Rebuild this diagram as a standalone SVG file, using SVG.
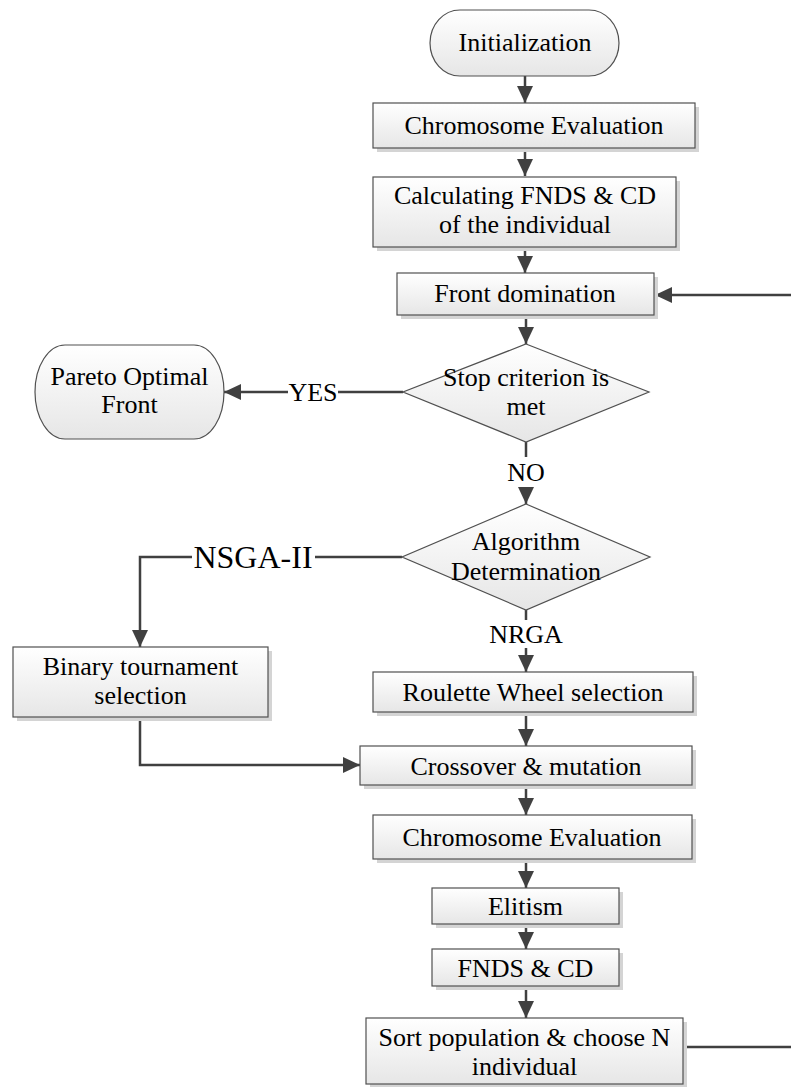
<svg xmlns="http://www.w3.org/2000/svg" width="791" height="1087" viewBox="0 0 791 1087">
<defs>
<linearGradient id="g" x1="0" y1="0" x2="0" y2="1">
<stop offset="0" stop-color="#ffffff"/>
<stop offset="1" stop-color="#e6e6e6"/>
</linearGradient>
<marker id="arr" markerUnits="userSpaceOnUse" markerWidth="20" markerHeight="20" viewBox="0 0 20 20" refX="18" refY="10" orient="auto">
<path d="M1,2 L18,10 L1,18 Z" fill="#404040"/>
</marker>
<style>
.box{fill:url(#g);stroke:#505050;stroke-width:1.2}
.sh{fill:#d4d4d4}
.t{font-family:"Liberation Serif","Times New Roman",serif;font-size:26px;fill:#000;text-anchor:middle}
.c{fill:none;stroke:#404040;stroke-width:2.5}
.lb{fill:#ffffff}
</style>
</defs>
<rect width="791" height="1087" fill="#ffffff"/>

<g id="connectors">
<path class="c" d="M525,76 V103" marker-end="url(#arr)"/>
<path class="c" d="M525,148 V176" marker-end="url(#arr)"/>
<path class="c" d="M525,247 V273" marker-end="url(#arr)"/>
<path class="c" d="M526,315 V344" marker-end="url(#arr)"/>
<path class="c" d="M403,392 H224" marker-end="url(#arr)"/>
<path class="c" d="M526,442 V504" marker-end="url(#arr)"/>
<path class="c" d="M402,557 H140 V647" marker-end="url(#arr)"/>
<path class="c" d="M526,610 V672" marker-end="url(#arr)"/>
<path class="c" d="M526,712 V746" marker-end="url(#arr)"/>
<path class="c" d="M140,717 V765 H360" marker-end="url(#arr)"/>
<path class="c" d="M526,785 V815" marker-end="url(#arr)"/>
<path class="c" d="M526,859 V888" marker-end="url(#arr)"/>
<path class="c" d="M526,924 V949" marker-end="url(#arr)"/>
<path class="c" d="M526,986 V1018" marker-end="url(#arr)"/>
<path class="c" d="M683,1047 H796 V295 H655" marker-end="url(#arr)"/>
<rect class="lb" x="288" y="378" width="50" height="28"/>
<text class="t" x="313" y="401">YES</text>
<rect class="lb" x="506" y="457" width="40" height="30"/>
<text class="t" x="526" y="481">NO</text>
<rect class="lb" x="486" y="620" width="80" height="28"/>
<text class="t" x="526" y="643">NRGA</text>
<rect class="lb" x="192" y="540" width="123" height="34"/>
<text class="t" x="253" y="568" style="font-size:32px">NSGA-II</text>
</g>

<g id="n-init">
<rect class="box" x="430" y="10" width="189" height="66" rx="30" ry="33"/>
<text class="t" x="525" y="51">Initialization</text>
</g>

<g id="n-eval1">
<rect class="sh" x="377" y="107" width="322" height="45"/>
<rect class="box" x="373" y="103" width="322" height="45"/>
<text class="t" x="534" y="134">Chromosome Evaluation</text>
</g>

<g id="n-calc">
<rect class="sh" x="377" y="181" width="303" height="70"/>
<rect class="box" x="373" y="177" width="303" height="70"/>
<text class="t" x="525" y="204">Calculating FNDS &amp; CD</text>
<text class="t" x="525" y="233">of the individual</text>
</g>

<g id="n-front">
<rect class="sh" x="401" y="277" width="257" height="42"/>
<rect class="box" x="397" y="273" width="257" height="42"/>
<text class="t" x="525" y="302">Front domination</text>
</g>

<g id="n-stop">
<polygon class="box" points="526,344 649,392 526,442 403,392"/>
<text class="t" x="526" y="386">Stop criterion is</text>
<text class="t" x="526" y="415">met</text>
</g>

<g id="n-pareto">
<rect class="box" x="35" y="345" width="189" height="94" rx="30" ry="47"/>
<text class="t" x="129.5" y="385">Pareto Optimal</text>
<text class="t" x="129.5" y="413">Front</text>
</g>

<g id="n-algo">
<polygon class="box" points="526,504 650,557 526,610 402,557"/>
<text class="t" x="526" y="550">Algorithm</text>
<text class="t" x="526" y="580">Determination</text>
</g>

<g id="n-binary">
<rect class="sh" x="17" y="651" width="255" height="70"/>
<rect class="box" x="13" y="647" width="255" height="70"/>
<text class="t" x="140.5" y="675">Binary tournament</text>
<text class="t" x="140.5" y="704">selection</text>
</g>

<g id="n-roulette">
<rect class="sh" x="377" y="676" width="320" height="40"/>
<rect class="box" x="373" y="672" width="320" height="40"/>
<text class="t" x="533" y="701">Roulette Wheel selection</text>
</g>

<g id="n-cross">
<rect class="sh" x="364" y="750" width="332" height="39"/>
<rect class="box" x="360" y="746" width="332" height="39"/>
<text class="t" x="526" y="775">Crossover &amp; mutation</text>
</g>

<g id="n-eval2">
<rect class="sh" x="377" y="819" width="319" height="44"/>
<rect class="box" x="373" y="815" width="319" height="44"/>
<text class="t" x="532" y="846">Chromosome Evaluation</text>
</g>

<g id="n-elit">
<rect class="sh" x="436" y="892" width="187" height="36"/>
<rect class="box" x="432" y="888" width="187" height="36"/>
<text class="t" x="525.5" y="915">Elitism</text>
</g>

<g id="n-fnds">
<rect class="sh" x="436" y="953" width="187" height="37"/>
<rect class="box" x="432" y="949" width="187" height="37"/>
<text class="t" x="525.5" y="977">FNDS &amp; CD</text>
</g>

<g id="n-sort">
<rect class="sh" x="370" y="1022" width="317" height="66"/>
<rect class="box" x="366" y="1018" width="317" height="66"/>
<text class="t" x="524.5" y="1046">Sort population &amp; choose N</text>
<text class="t" x="524.5" y="1075">individual</text>
</g>
</svg>
